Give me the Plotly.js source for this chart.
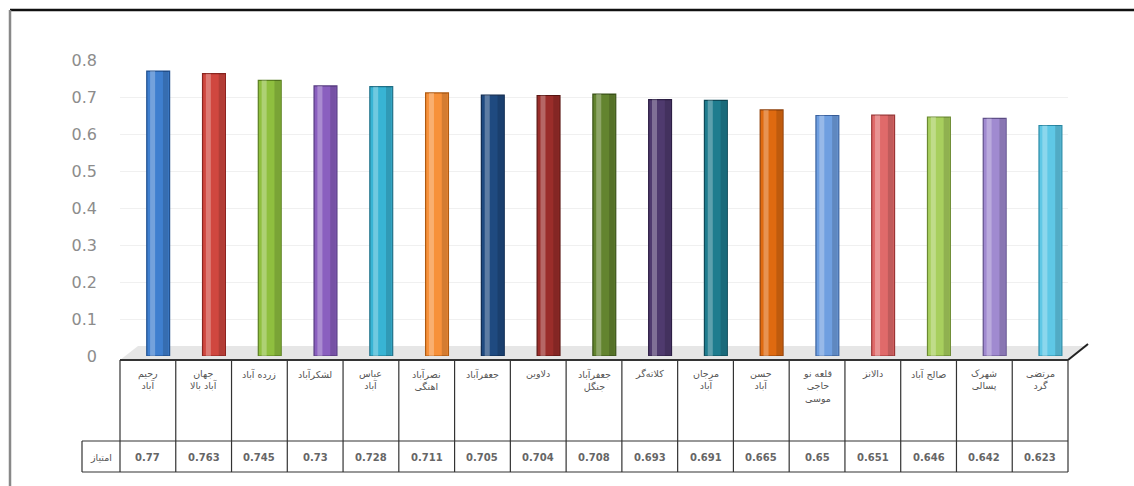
<!DOCTYPE html>
<html>
<head>
<meta charset="utf-8">
<script src="https://cdn.plot.ly/plotly-3.0.1.min.js"></script>
<style>html,body{margin:0;padding:0;background:#fff;}#chart{width:1134px;height:486px;}</style>
</head>
<body>
<div id="chart"></div>
<script>
// ---- data ----
var categories = [
  "رحیم<br>آباد", "جهان<br>آباد بالا", "زرده آباد", "لشکرآباد", "عباس<br>آباد",
  "نصرآباد<br>اهنگی", "جعفرآباد", "دلاوین", "جعفرآباد<br>جنگل", "کلاته‌گر",
  "مرجان<br>آباد", "حسن<br>آباد", "قلعه نو<br>حاجی<br>موسی", "دالانز", "صالح آباد",
  "شهرک<br>پسالی", "مرتضی<br>گرد"
];
var values = [0.77, 0.763, 0.745, 0.73, 0.728, 0.711, 0.705, 0.704, 0.708, 0.693,
              0.691, 0.665, 0.65, 0.651, 0.646, 0.642, 0.623];
var valueLabels = ["0.77", "0.763", "0.745", "0.73", "0.728", "0.711", "0.705", "0.704", "0.708", "0.693",
                   "0.691", "0.665", "0.65", "0.651", "0.646", "0.642", "0.623"];
var rowHeader = "امتیاز";
var yTicks = [0, 0.1, 0.2, 0.3, 0.4, 0.5, 0.6, 0.7, 0.8];
var yTickText = ["0", "0.1", "0.2", "0.3", "0.4", "0.5", "0.6", "0.7", "0.8"];

// ---- styles ----
var barColors = ["#3f7fcf", "#d0473f", "#8fbf3f", "#8a5fbf", "#38b4d4", "#f7913a",
                 "#1f4a80", "#9a2d2a", "#63842f", "#4f3a6e", "#1f7c8e", "#df6a10",
                 "#6f9fe0", "#e06a6a", "#a8cf5e", "#a08ad0", "#5fc8e6"];
var barLines = ["#1f4f8f", "#8a2520", "#5a7f20", "#553a80", "#1f7088", "#b05a10",
                "#0f2a50", "#5a1512", "#3a5218", "#2d1f45", "#0f4a58", "#8f400a",
                "#3a62a0", "#9a3535", "#6a8a30", "#60508a", "#2a8aa6"];

var idx = categories.map(function(_, i){ return i; });
var W = 0.41, OFF = -0.02;

var traces = [
  {type: "bar", x: idx, y: values, width: W, offset: OFF,
   marker: {color: barColors, line: {color: barLines, width: 1.2}},
   hoverinfo: "skip"},
  {type: "bar", x: idx, y: values, width: 0.09, offset: OFF + 0.06,
   marker: {color: "rgba(255,255,255,0.28)", line: {width: 0}}, hoverinfo: "skip"},
  {type: "bar", x: idx, y: values, width: 0.1, offset: OFF + W - 0.12,
   marker: {color: "rgba(0,0,0,0.14)", line: {width: 0}}, hoverinfo: "skip"}
];

// pixel helpers (plot area: x 120..1068, y 60..356)
function px(p){ return (p - 120) / 948; }
function py(p){ return (356 - p) / 296; }

var shapes = [];
var annotations = [];
var lineC = "#333";

// outer frame of picture
shapes.push({type: "line", xref: "paper", yref: "paper", x0: px(10), x1: px(1134), y0: py(10), y1: py(10),
             line: {color: "#111", width: 2.5}});
shapes.push({type: "line", xref: "paper", yref: "paper", x0: px(10), x1: px(10), y0: py(10), y1: py(486),
             line: {color: "#888", width: 2.5}});

// floor strip
shapes.push({type: "path", xref: "paper", yref: "paper",
             path: "M " + px(120) + "," + py(360) + " L " + px(1068) + "," + py(360) +
                   " L " + px(1088) + "," + py(346) + " L " + px(138) + "," + py(346) + " Z",
             fillcolor: "rgba(200,200,200,0.45)", line: {width: 0}, layer: "below"});
shapes.push({type: "line", xref: "paper", yref: "paper", x0: px(1068), x1: px(1088), y0: py(360), y1: py(344),
             line: {color: "#222", width: 2}});

// table horizontal lines
[360, 441, 472].forEach(function(p){
  shapes.push({type: "line", xref: "paper", yref: "paper", x0: (p === 360 ? px(120) : px(82)), x1: px(1068),
               y0: py(p), y1: py(p), line: {color: lineC, width: p === 360 ? 2 : 1.2}});
});
// table outer verticals
shapes.push({type: "line", xref: "paper", yref: "paper", x0: px(120), x1: px(120), y0: py(360), y1: py(472),
             line: {color: lineC, width: 1.2}});
shapes.push({type: "line", xref: "paper", yref: "paper", x0: px(1068), x1: px(1068), y0: py(360), y1: py(472),
             line: {color: lineC, width: 1.2}});
shapes.push({type: "line", xref: "paper", yref: "paper", x0: px(82), x1: px(82), y0: py(441), y1: py(472),
             line: {color: lineC, width: 1.2}});
// internal verticals at category boundaries
for (var k = 0; k < categories.length - 1; k++) {
  shapes.push({type: "line", xref: "x", yref: "paper", x0: k + 0.5, x1: k + 0.5, y0: py(360), y1: py(472),
               line: {color: lineC, width: 1.2}});
}

// table text
categories.forEach(function(c, i){
  annotations.push({xref: "x", yref: "paper", x: i, y: py(366), yanchor: "top", xanchor: "center",
                    text: c, showarrow: false, align: "center",
                    font: {family: "DejaVu Sans, Noto Sans", size: 9.5, color: "#555"}});
  annotations.push({xref: "x", yref: "paper", x: i, y: py(457), yanchor: "middle", xanchor: "center",
                    text: "<b>" + valueLabels[i] + "</b>", showarrow: false,
                    font: {family: "DejaVu Sans", size: 10, color: "#666"}});
});
annotations.push({xref: "paper", yref: "paper", x: px(101), y: py(457), yanchor: "middle", xanchor: "center",
                  text: rowHeader, showarrow: false,
                  font: {family: "DejaVu Sans", size: 9.5, color: "#555"}});

var layout = {
  width: 1134, height: 486,
  margin: {l: 120, r: 66, t: 60, b: 130},
  paper_bgcolor: "#ffffff", plot_bgcolor: "#ffffff",
  showlegend: false,
  barmode: "overlay",
  xaxis: {range: [-0.5, categories.length - 0.5], showticklabels: false, showgrid: false,
          zeroline: false, showline: false, ticks: "", fixedrange: true},
  yaxis: {range: [0, 0.8], tickvals: yTicks, ticktext: yTickText, showgrid: true,
          gridcolor: "#f0f0f0", gridwidth: 1, zeroline: false, showline: false, ticks: "",
          ticklabelstandoff: 22, tickfont: {family: "DejaVu Sans", size: 16, color: "#8c8c8c"},
          fixedrange: true},
  shapes: shapes,
  annotations: annotations
};

Plotly.newPlot("chart", traces, layout, {displayModeBar: false, staticPlot: true});
</script>
</body>
</html>
